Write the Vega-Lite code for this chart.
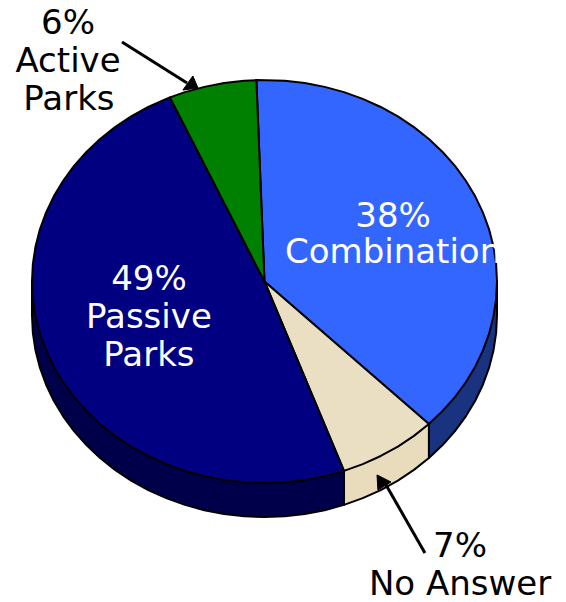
{
"$schema":"https://vega.github.io/schema/vega-lite/v6.json",
"autosize":{"type":"none"},
"width":566,"height":602,"padding":0,"background":"white",
"config":{"view":{"stroke":null}},
"resolve":{"scale":{"fill":"independent"}},
"datasets":{
"sides":[
{"slice":"Combination","i":0,"x":0,"y":0},{"slice":"Combination","i":1,"x":0.7071,"y":-0.7071},{"slice":"Combination","i":2,"x":0.7071,"y":-0.8761},{"slice":"Combination","i":3,"x":0.766,"y":-0.8118},{"slice":"Combination","i":4,"x":0.8192,"y":-0.7426},{"slice":"Combination","i":5,"x":0.866,"y":-0.669},{"slice":"Combination","i":6,"x":0.9063,"y":-0.5916},{"slice":"Combination","i":7,"x":0.9397,"y":-0.511},{"slice":"Combination","i":8,"x":0.9659,"y":-0.4278},{"slice":"Combination","i":9,"x":0.9848,"y":-0.3426},{"slice":"Combination","i":10,"x":0.9962,"y":-0.2562},{"slice":"Combination","i":11,"x":1,"y":-0.169},{"slice":"Combination","i":12,"x":1,"y":0},{"slice":"Combination","i":13,"x":0,"y":0},
{"slice":"No Answer","i":0,"x":0,"y":0},{"slice":"No Answer","i":1,"x":0.342,"y":-0.9397},{"slice":"No Answer","i":2,"x":0.342,"y":-1.1087},{"slice":"No Answer","i":3,"x":0.4226,"y":-1.0753},{"slice":"No Answer","i":4,"x":0.5,"y":-1.035},{"slice":"No Answer","i":5,"x":0.5736,"y":-0.9882},{"slice":"No Answer","i":6,"x":0.6428,"y":-0.935},{"slice":"No Answer","i":7,"x":0.7071,"y":-0.8761},{"slice":"No Answer","i":8,"x":0.7071,"y":-0.7071},{"slice":"No Answer","i":9,"x":0,"y":0},
{"slice":"Passive Parks","i":0,"x":0,"y":0},{"slice":"Passive Parks","i":1,"x":0.342,"y":-0.9397},{"slice":"Passive Parks","i":2,"x":0.342,"y":-1.1087},{"slice":"Passive Parks","i":3,"x":0.2588,"y":-1.1349},{"slice":"Passive Parks","i":4,"x":0.1736,"y":-1.1538},{"slice":"Passive Parks","i":5,"x":0.0872,"y":-1.1652},{"slice":"Passive Parks","i":6,"x":0,"y":-1.169},{"slice":"Passive Parks","i":7,"x":-0.0872,"y":-1.1652},{"slice":"Passive Parks","i":8,"x":-0.1736,"y":-1.1538},{"slice":"Passive Parks","i":9,"x":-0.2588,"y":-1.1349},{"slice":"Passive Parks","i":10,"x":-0.342,"y":-1.1087},{"slice":"Passive Parks","i":11,"x":-0.4226,"y":-1.0753},{"slice":"Passive Parks","i":12,"x":-0.5,"y":-1.035},{"slice":"Passive Parks","i":13,"x":-0.5736,"y":-0.9882},{"slice":"Passive Parks","i":14,"x":-0.6428,"y":-0.935},{"slice":"Passive Parks","i":15,"x":-0.7071,"y":-0.8761},{"slice":"Passive Parks","i":16,"x":-0.766,"y":-0.8118},{"slice":"Passive Parks","i":17,"x":-0.8192,"y":-0.7426},{"slice":"Passive Parks","i":18,"x":-0.866,"y":-0.669},{"slice":"Passive Parks","i":19,"x":-0.9063,"y":-0.5916},{"slice":"Passive Parks","i":20,"x":-0.9397,"y":-0.511},{"slice":"Passive Parks","i":21,"x":-0.9659,"y":-0.4278},{"slice":"Passive Parks","i":22,"x":-0.9848,"y":-0.3426},{"slice":"Passive Parks","i":23,"x":-0.9962,"y":-0.2562},{"slice":"Passive Parks","i":24,"x":-1,"y":-0.169},{"slice":"Passive Parks","i":25,"x":-1,"y":0},{"slice":"Passive Parks","i":26,"x":0,"y":0}
],
"tops":[
{"slice":"Combination","i":0,"x":0,"y":0},{"slice":"Combination","i":1,"x":-0.0349,"y":0.9994},{"slice":"Combination","i":2,"x":0.0872,"y":0.9962},{"slice":"Combination","i":3,"x":0.1736,"y":0.9848},{"slice":"Combination","i":4,"x":0.2588,"y":0.9659},{"slice":"Combination","i":5,"x":0.342,"y":0.9397},{"slice":"Combination","i":6,"x":0.4226,"y":0.9063},{"slice":"Combination","i":7,"x":0.5,"y":0.866},{"slice":"Combination","i":8,"x":0.5736,"y":0.8192},{"slice":"Combination","i":9,"x":0.6428,"y":0.766},{"slice":"Combination","i":10,"x":0.7071,"y":0.7071},{"slice":"Combination","i":11,"x":0.766,"y":0.6428},{"slice":"Combination","i":12,"x":0.8192,"y":0.5736},{"slice":"Combination","i":13,"x":0.866,"y":0.5},{"slice":"Combination","i":14,"x":0.9063,"y":0.4226},{"slice":"Combination","i":15,"x":0.9397,"y":0.342},{"slice":"Combination","i":16,"x":0.9659,"y":0.2588},{"slice":"Combination","i":17,"x":0.9848,"y":0.1736},{"slice":"Combination","i":18,"x":0.9962,"y":0.0872},{"slice":"Combination","i":19,"x":1,"y":0},{"slice":"Combination","i":20,"x":0.9962,"y":-0.0872},{"slice":"Combination","i":21,"x":0.9848,"y":-0.1736},{"slice":"Combination","i":22,"x":0.9659,"y":-0.2588},{"slice":"Combination","i":23,"x":0.9397,"y":-0.342},{"slice":"Combination","i":24,"x":0.9063,"y":-0.4226},{"slice":"Combination","i":25,"x":0.866,"y":-0.5},{"slice":"Combination","i":26,"x":0.8192,"y":-0.5736},{"slice":"Combination","i":27,"x":0.766,"y":-0.6428},{"slice":"Combination","i":28,"x":0.7071,"y":-0.7071},{"slice":"Combination","i":29,"x":0,"y":0},
{"slice":"No Answer","i":0,"x":0,"y":0},{"slice":"No Answer","i":1,"x":0.7071,"y":-0.7071},{"slice":"No Answer","i":2,"x":0.6428,"y":-0.766},{"slice":"No Answer","i":3,"x":0.5736,"y":-0.8192},{"slice":"No Answer","i":4,"x":0.5,"y":-0.866},{"slice":"No Answer","i":5,"x":0.4226,"y":-0.9063},{"slice":"No Answer","i":6,"x":0.342,"y":-0.9397},{"slice":"No Answer","i":7,"x":0,"y":0},
{"slice":"Passive Parks","i":0,"x":0,"y":0},{"slice":"Passive Parks","i":1,"x":0.342,"y":-0.9397},{"slice":"Passive Parks","i":2,"x":0.2588,"y":-0.9659},{"slice":"Passive Parks","i":3,"x":0.1736,"y":-0.9848},{"slice":"Passive Parks","i":4,"x":0.0872,"y":-0.9962},{"slice":"Passive Parks","i":5,"x":0,"y":-1},{"slice":"Passive Parks","i":6,"x":-0.0872,"y":-0.9962},{"slice":"Passive Parks","i":7,"x":-0.1736,"y":-0.9848},{"slice":"Passive Parks","i":8,"x":-0.2588,"y":-0.9659},{"slice":"Passive Parks","i":9,"x":-0.342,"y":-0.9397},{"slice":"Passive Parks","i":10,"x":-0.4226,"y":-0.9063},{"slice":"Passive Parks","i":11,"x":-0.5,"y":-0.866},{"slice":"Passive Parks","i":12,"x":-0.5736,"y":-0.8192},{"slice":"Passive Parks","i":13,"x":-0.6428,"y":-0.766},{"slice":"Passive Parks","i":14,"x":-0.7071,"y":-0.7071},{"slice":"Passive Parks","i":15,"x":-0.766,"y":-0.6428},{"slice":"Passive Parks","i":16,"x":-0.8192,"y":-0.5736},{"slice":"Passive Parks","i":17,"x":-0.866,"y":-0.5},{"slice":"Passive Parks","i":18,"x":-0.9063,"y":-0.4226},{"slice":"Passive Parks","i":19,"x":-0.9397,"y":-0.342},{"slice":"Passive Parks","i":20,"x":-0.9659,"y":-0.2588},{"slice":"Passive Parks","i":21,"x":-0.9848,"y":-0.1736},{"slice":"Passive Parks","i":22,"x":-0.9962,"y":-0.0872},{"slice":"Passive Parks","i":23,"x":-1,"y":0},{"slice":"Passive Parks","i":24,"x":-0.9962,"y":0.0872},{"slice":"Passive Parks","i":25,"x":-0.9848,"y":0.1736},{"slice":"Passive Parks","i":26,"x":-0.9659,"y":0.2588},{"slice":"Passive Parks","i":27,"x":-0.9397,"y":0.342},{"slice":"Passive Parks","i":28,"x":-0.9063,"y":0.4226},{"slice":"Passive Parks","i":29,"x":-0.866,"y":0.5},{"slice":"Passive Parks","i":30,"x":-0.8192,"y":0.5736},{"slice":"Passive Parks","i":31,"x":-0.766,"y":0.6428},{"slice":"Passive Parks","i":32,"x":-0.7071,"y":0.7071},{"slice":"Passive Parks","i":33,"x":-0.6428,"y":0.766},{"slice":"Passive Parks","i":34,"x":-0.5736,"y":0.8192},{"slice":"Passive Parks","i":35,"x":-0.5,"y":0.866},{"slice":"Passive Parks","i":36,"x":-0.4226,"y":0.9063},{"slice":"Passive Parks","i":37,"x":-0.4067,"y":0.9135},{"slice":"Passive Parks","i":38,"x":0,"y":0},
{"slice":"Active Parks","i":0,"x":0,"y":0},{"slice":"Active Parks","i":1,"x":-0.4067,"y":0.9135},{"slice":"Active Parks","i":2,"x":-0.342,"y":0.9397},{"slice":"Active Parks","i":3,"x":-0.2588,"y":0.9659},{"slice":"Active Parks","i":4,"x":-0.1736,"y":0.9848},{"slice":"Active Parks","i":5,"x":-0.0872,"y":0.9962},{"slice":"Active Parks","i":6,"x":-0.0349,"y":0.9994},{"slice":"Active Parks","i":7,"x":0,"y":0}
],
"shafts":[
{"arrow":"Active Parks","i":0,"x":-0.613,"y":1.189},{"arrow":"Active Parks","i":1,"x":-0.333,"y":0.985},
{"arrow":"No Answer","i":0,"x":0.69,"y":-1.347},{"arrow":"No Answer","i":1,"x":0.518,"y":-1.0}
],
"heads":[
{"arrow":"Active Parks","i":0,"x":-0.286,"y":0.96},{"arrow":"Active Parks","i":1,"x":-0.351,"y":0.95},{"arrow":"Active Parks","i":2,"x":-0.308,"y":1.02},{"arrow":"Active Parks","i":3,"x":-0.286,"y":0.96},
{"arrow":"No Answer","i":0,"x":0.484,"y":-0.96},{"arrow":"No Answer","i":1,"x":0.488,"y":-1.035},{"arrow":"No Answer","i":2,"x":0.544,"y":-0.995},{"arrow":"No Answer","i":3,"x":0.484,"y":-0.96}
],
"labels":[
{"text":"6%","x":-0.845,"y":1.283,"place":"outside"},{"text":"Active","x":-0.845,"y":1.094,"place":"outside"},{"text":"Parks","x":-0.841,"y":0.906,"place":"outside"},
{"text":"38%","x":0.553,"y":0.325,"place":"inside"},{"text":"Combination","x":0.553,"y":0.146,"place":"inside"},
{"text":"49%","x":-0.497,"y":0.012,"place":"inside"},{"text":"Passive","x":-0.497,"y":-0.176,"place":"inside"},{"text":"Parks","x":-0.497,"y":-0.365,"place":"inside"},
{"text":"7%","x":0.841,"y":-1.312,"place":"outside"},{"text":"No Answer","x":0.841,"y":-1.501,"place":"outside"}
]
},
"encoding":{
"x":{"field":"x","type":"quantitative","axis":null,"scale":{"domain":[-1.1376,1.2968],"nice":false,"zero":false}},
"y":{"field":"y","type":"quantitative","axis":null,"scale":{"domain":[-1.5906,1.397],"nice":false,"zero":false}}
},
"layer":[
{"data":{"name":"sides"},"mark":{"type":"line","filled":true,"stroke":"black","strokeWidth":2,"strokeJoin":"round"},
"encoding":{"order":{"field":"i","type":"quantitative"},"fill":{"field":"slice","type":"nominal","legend":null,"scale":{"domain":["Combination","No Answer","Passive Parks"],"range":["#1a3380","#e8dcbc","#00004a"]}}}},
{"data":{"name":"tops"},"mark":{"type":"line","filled":true,"stroke":"black","strokeWidth":2,"strokeJoin":"round"},
"encoding":{"order":{"field":"i","type":"quantitative"},"fill":{"field":"slice","type":"nominal","legend":null,"scale":{"domain":["Combination","No Answer","Passive Parks","Active Parks"],"range":["#3366ff","#ebdfc3","#000080","#008000"]}}}},
{"data":{"name":"shafts"},"mark":{"type":"line","stroke":"black","strokeWidth":3},
"encoding":{"order":{"field":"i","type":"quantitative"},"detail":{"field":"arrow","type":"nominal"}}},
{"data":{"name":"heads"},"mark":{"type":"line","filled":true,"fill":"black","stroke":"black","strokeWidth":1},
"encoding":{"order":{"field":"i","type":"quantitative"},"detail":{"field":"arrow","type":"nominal"}}},
{"data":{"name":"labels"},"mark":{"type":"text","font":"DejaVu Sans","fontSize":34,"dy":1,"align":"center","baseline":"middle"},
"encoding":{"text":{"field":"text","type":"nominal"},"color":{"field":"place","type":"nominal","legend":null,"scale":{"domain":["inside","outside"],"range":["white","black"]}}}}
]
}
